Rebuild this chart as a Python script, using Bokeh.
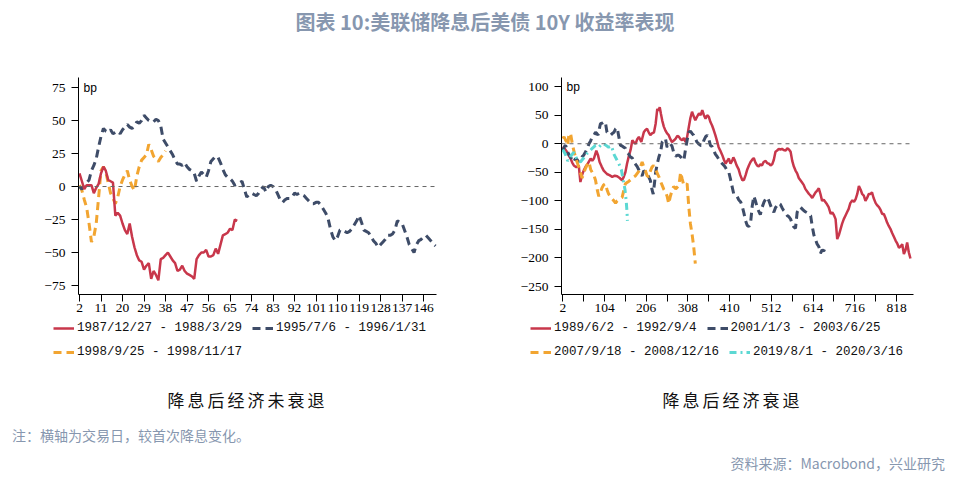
from bokeh.plotting import figure
from bokeh.models import (Span, Label, Legend, LegendItem, FixedTicker, Div)
from bokeh.layouts import column, row
from bokeh.embed import file_html
from bokeh.resources import INLINE

# ---------------- data ----------------
# Left panel: 降息后经济未衰退 (x = trading day, y = bp change vs first cut)
l_red_days = list(range(2, 69))
l_red_vals = [10, 4, -2, 1, 1, 1, -5, -1, 2, 10, 15, 12, 5, 4, 3, -22, -20, -22, -28, -33,
              -36, -28, -38, -46, -52, -56, -57, -63, -60, -58, -70, -64, -67, -71, -55, -54,
              -52, -50, -53, -56, -58, -64, -63, -60, -64, -66, -67, -68, -70, -55, -52, -50,
              -50, -48, -53, -53, -52, -47, -51, -44, -37, -36, -35, -32, -33, -25, -26]

l_navy_days = list(range(2, 152))
l_navy_vals = [0, -2, 1, 3, 5, 12, 16, 21, 30, 38, 44, 42, 41, 43, 40, 41, 42, 40, 43, 45,
               47, 45, 44, 46, 49, 48, 50, 54, 52, 50, 49, 49, 51, 50, 46, 36, 33, 30, 27, 24,
               20, 17, 17, 16, 18, 15, 13, 12, 10, 4, 8, 11, 9, 7, 12, 19, 21, 23, 22, 18,
               13, 9, 7, 6, 4, 1, 2, 3, 4, -2, -8, -6, -5, -6, -7, -5, -2, 0, -4, 0,
               1, 0, -2, -6, -10, -12, -10, -9, -9, -8, -5, -6, -5, -6, -7, -9, -11, -13, -13, -12,
               -12, -14, -17, -20, -24, -32, -38, -41, -38, -33, -33, -34, -35, -34, -32, -29, -26, -22, -27, -33,
               -34, -35, -38, -41, -43, -46, -44, -42, -40, -37, -37, -36, -33, -26, -27, -28, -33, -38, -44, -47,
               -50, -44, -41, -40, -38, -37, -39, -41, -43, -45]

l_orange_days = list(range(2, 39))
l_orange_vals = [1, -3, -10, -16, -28, -42, -38, -28, -8, 12, 15, 11, 3, -5, -9, -13, -8, 0, 5, 9,
                 12, 5, 0, -3, 8, 15, 20, 22, 24, 32, 28, 23, 21, 19, 22, 24, 27]

l_labels = ["1987/12/27 - 1988/3/29", "1995/7/6 - 1996/1/31", "1998/9/25 - 1998/11/17"]
l_xticks = [2, 11, 20, 29, 38, 47, 56, 65, 74, 83, 92, 101, 110, 119, 128, 137, 146]
l_yticks = [-75, -50, -25, 0, 25, 50, 75]

# Right panel: 降息后经济衰退
r_red_days = [2, 4, 8, 12, 16, 21, 25, 29, 35, 41, 45, 49, 53, 58, 63, 70, 74, 78, 84, 88,
              92, 97, 102, 110, 116, 123, 129, 135, 141, 147, 151, 155, 159, 163, 168, 172, 176, 180, 184, 188,
              194, 200, 204, 208, 212, 216, 220, 225, 229, 233, 236, 239, 242, 245, 249, 253, 257, 261, 265, 269,
              274, 278, 282, 286, 290, 294, 298, 302, 306, 310, 314, 318, 322, 326, 330, 335, 339, 343, 347, 351,
              355, 359, 363, 367, 371, 375, 379, 383, 387, 392, 396, 400, 404, 408, 412, 416, 419, 422, 427, 432,
              436, 441, 445, 449, 453, 457, 461, 465, 469, 473, 477, 481, 485, 489, 493, 498, 502, 506, 510, 514,
              518, 522, 526, 530, 534, 538, 542, 547, 551, 555, 559, 563, 567, 571, 575, 579, 583, 587, 591, 595,
              600, 604, 608, 612, 616, 620, 624, 628, 632, 636, 640, 644, 648, 652, 657, 661, 665, 669, 673, 677,
              681, 685, 689, 693, 697, 701, 705, 710, 714, 718, 722, 726, 730, 734, 738, 742, 746, 750, 754, 758,
              762, 767, 771, 775, 779, 783, 787, 791, 795, 799, 803, 807, 811, 816, 820, 824, 828, 832, 836, 840,
              844, 848, 852]
r_red_vals = [-5, -6, -10, -14, -20, -26, -33, -38, -41, -38, -67, -55, -47, -40, -35, -26, -30, -26, -12, -20,
              -32, -40, -47, -53, -55, -58, -56, -57, -60, -64, -58, -50, -35, -23, -10, 6, 2, 0, 8, 12,
              3, 20, 24, 26, 20, 15, 18, 20, 35, 61, 58, 64, 52, 41, 30, 23, 18, 15, 8, 3,
              6, 9, 14, 12, 8, 6, 10, 3, 12, 29, 45, 56, 48, 41, 47, 53, 50, 59, 50, 44,
              50, 47, 38, 32, 24, 15, 5, -6, -12, -20, -28, -35, -30, -26, -35, -30, -24, -28, -38, -45,
              -55, -64, -63, -55, -45, -38, -32, -28, -25, -33, -38, -40, -36, -38, -32, -30, -34, -35, -38, -36,
              -28, -14, -12, -9, -10, -9, -11, -12, -8, -10, -14, -30, -40, -47, -52, -60, -64, -68, -72, -79,
              -84, -88, -91, -95, -90, -85, -82, -78, -88, -100, -98, -102, -106, -111, -123, -120, -125, -132, -167, -160,
              -150, -140, -132, -126, -120, -114, -104, -99, -102, -97, -88, -74, -80, -88, -91, -100, -95, -88, -88, -85,
              -95, -104, -108, -111, -116, -123, -123, -130, -138, -144, -149, -156, -162, -170, -175, -182, -180, -176, -193, -186,
              -173, -190, -201]

r_navy_days = [2, 6, 9, 12, 14, 18, 21, 24, 27, 30, 33, 37, 41, 45, 49, 53, 57, 62, 66, 70,
               74, 78, 82, 85, 88, 91, 94, 98, 102, 106, 110, 114, 119, 123, 127, 131, 135, 139, 143, 147,
               151, 155, 159, 163, 167, 172, 176, 180, 184, 188, 192, 196, 200, 204, 208, 212, 216, 220, 223, 226,
               229, 233, 237, 241, 245, 249, 253, 257, 261, 265, 269, 273, 278, 282, 286, 290, 294, 298, 302, 306,
               310, 314, 318, 322, 326, 330, 334, 339, 343, 347, 351, 355, 359, 363, 367, 371, 375, 380, 384, 388,
               392, 396, 400, 404, 408, 412, 416, 420, 424, 428, 432, 437, 441, 445, 449, 453, 457, 461, 465, 469,
               473, 477, 481, 485, 489, 494, 498, 502, 506, 510, 514, 518, 522, 526, 530, 534, 538, 542, 546, 551,
               555, 559, 563, 567, 571, 575, 579, 583, 587, 591, 595, 600, 604, 608, 612, 616, 620, 624, 628, 632,
               636, 640, 644, 648]
r_navy_vals = [-12, -5, -3, -10, -15, -20, -23, -28, -32, -30, -26, -28, -32, -28, -23, -20, -15, -8, 0, 5,
               12, 15, 20, 18, 15, 25, 35, 36, 38, 38, 20, 18, 15, 18, 20, 26, 28, 12, -3, -4,
               -6, -8, -15, -18, -23, -25, -32, -36, -40, -46, -53, -56, -47, -50, -53, -58, -64, -80, -88, -70,
               -50, -35, -23, -15, 3, 6, 9, -6, -2, 0, -4, -15, -22, -20, -20, -23, -26, -29, -10, 6,
               20, 22, 18, 15, 9, 3, 0, -3, -3, 6, 12, 15, 8, -3, -5, -12, -18, -23, -28, -32,
               -35, -38, -42, -47, -50, -62, -75, -88, -90, -92, -98, -102, -110, -122, -135, -143, -145, -140, -110, -92,
               -100, -111, -118, -124, -112, -102, -97, -94, -100, -108, -115, -120, -112, -108, -104, -106, -112, -117, -120, -126,
               -128, -132, -140, -146, -148, -120, -115, -111, -114, -117, -119, -121, -124, -126, -145, -160, -168, -176, -180, -192,
               -186, -188, -182, -178]

r_orange_days = [2, 5, 9, 12, 14, 17, 21, 24, 27, 30, 33, 37, 41, 45, 49, 53, 57, 62, 66, 70,
                 74, 78, 82, 86, 90, 94, 98, 102, 106, 110, 114, 118, 123, 127, 131, 135, 139, 143, 147, 151,
                 155, 159, 163, 168, 172, 176, 180, 184, 188, 192, 196, 200, 204, 208, 212, 216, 220, 224, 229, 233,
                 237, 241, 245, 249, 253, 257, 261, 265, 269, 273, 278, 282, 286, 290, 294, 298, 302, 306, 310, 314,
                 318, 322, 326]
r_orange_vals = [9, 12, 6, 2, -3, 17, 18, 5, -6, -15, -23, -32, -41, -50, -60, -52, -44, -36, -32, -45,
                 -50, -55, -64, -80, -92, -85, -77, -72, -70, -80, -88, -92, -97, -100, -104, -100, -98, -96, -94, -82,
                 -70, -68, -66, -63, -61, -58, -56, -52, -48, -40, -32, -40, -47, -56, -58, -48, -41, -38, -44, -52,
                 -58, -66, -73, -80, -84, -92, -105, -92, -82, -75, -79, -76, -73, -50, -62, -73, -72, -70, -110, -140,
                 -158, -180, -210]

r_cyan_days = [2, 8, 14, 21, 29, 37, 45, 53, 60, 66, 74, 82, 90, 98, 106, 114, 121, 128, 134, 139,
               145, 150, 154, 157, 159, 160]
r_cyan_vals = [-10, -18, -30, -22, -15, -28, -32, -25, -18, -14, -8, -3, -6, 0, -2, -6, -4, -20, -28, -35,
               -45, -65, -80, -100, -120, -135]

r_labels = ["1989/6/2 - 1992/9/4", "2001/1/3 - 2003/6/25", "2007/9/18 - 2008/12/16", "2019/8/1 - 2020/3/16"]
r_xticks = [2, 104, 206, 308, 410, 512, 614, 716, 818]
r_xminor = [53, 155, 257, 359, 461, 563, 665, 767]
r_yticks = [-250, -200, -150, -100, -50, 0, 50, 100]

title_text = "图表 10:美联储降息后美债 10Y 收益率表现"
sub_left = "降息后经济未衰退"
sub_right = "降息后经济衰退"
note_text = "注：横轴为交易日，较首次降息变化。"
source_text = "资料来源：Macrobond，兴业研究"

# ---------------- style ----------------
RED = "#C8374B"
NAVY = "#3E4C68"
ORANGE = "#F2A531"
CYAN = "#5CD8D3"
GREYBLUE = "#8797AF"
TICK_FONT = "Liberation Serif"
LEG_FONT = "Liberation Mono"

STYLES = {
    "red": dict(line_color=RED, line_width=2.5),
    "navy": dict(line_color=NAVY, line_width=3, line_dash="8 5"),
    "orange": dict(line_color=ORANGE, line_width=3, line_dash="8 5"),
    "cyan": dict(line_color=CYAN, line_width=3, line_dash="7 4 2 4"),
}


def style(p, xticks, yticks, xminor=None):
    p.outline_line_color = None
    p.xgrid.visible = False
    p.ygrid.visible = False
    p.background_fill_color = "white"
    p.border_fill_color = "white"
    for ax in (p.xaxis[0], p.yaxis[0]):
        ax.axis_line_color = "black"
        ax.axis_line_width = 1
        ax.major_tick_line_color = "black"
        ax.major_tick_out = 7
        ax.major_tick_in = 0
        ax.minor_tick_line_color = None
        ax.major_label_text_font = TICK_FONT
        ax.major_label_text_font_size = "13.5px"
        ax.major_label_text_color = "black"
    p.xaxis[0].ticker = FixedTicker(ticks=xticks, minor_ticks=xminor or [])
    if xminor:
        p.xaxis[0].minor_tick_line_color = "black"
        p.xaxis[0].minor_tick_out = 7
        p.xaxis[0].minor_tick_in = 0
    p.yaxis[0].ticker = FixedTicker(ticks=yticks)
    p.xaxis[0].major_label_standoff = 2
    p.yaxis[0].major_label_standoff = 6
    p.add_layout(Span(location=0, dimension="width", line_color="#666666",
                      line_width=1, line_dash="4 4"))


PLOT_H = 273
common = dict(height=PLOT_H, output_backend="svg", toolbar_location=None,
              min_border_top=32, min_border_bottom=24)

# ---------------- left ----------------
p1 = figure(width=485, x_range=(1.58, 151.4), y_range=(-81.8, 82.6),
            min_border_left=78, min_border_right=49, **common)
style(p1, l_xticks, l_yticks)
p1.line(l_orange_days, l_orange_vals, **STYLES["orange"])
p1.line(l_navy_days, l_navy_vals, **STYLES["navy"])
p1.line(l_red_days, l_red_vals, **STYLES["red"])
p1.add_layout(Label(x=3.7, y=75, text="bp", text_font="Liberation Sans", text_font_size="12px",
                    text_baseline="middle", text_color="black"))

# ---------------- right ----------------
p2 = figure(width=485, x_range=(-1.2, 859.5), y_range=(-264, 116),
            min_border_left=76, min_border_right=57, **common)
style(p2, r_xticks, r_yticks, r_xminor)
p2.line(r_red_days, r_red_vals, **STYLES["red"])
p2.line(r_navy_days, r_navy_vals, **STYLES["navy"])
p2.line(r_orange_days, r_orange_vals, **STYLES["orange"])
p2.line(r_cyan_days, r_cyan_vals, **STYLES["cyan"])
p2.add_layout(Label(x=11, y=99, text="bp", text_font="Liberation Sans", text_font_size="12px",
                    text_baseline="middle", text_color="black"))

# ---------------- legend strip ----------------
# The strip's own ranges keep its copies of the series out of view; only the legend shows.
LEG_H = 52
pl = figure(width=970, height=LEG_H, x_range=(-1000, -999), y_range=(-1000, -999), output_backend="svg",
            toolbar_location=None, x_axis_location=None, y_axis_location=None, min_border=0)
pl.outline_line_color = None
pl.xgrid.visible = False
pl.ygrid.visible = False
pl.border_fill_color = "white"
pl.background_fill_color = "white"

rend = {
    "red": pl.line(r_red_days, r_red_vals, **STYLES["red"]),
    "navy": pl.line(r_navy_days, r_navy_vals, **STYLES["navy"]),
    "orange": pl.line(r_orange_days, r_orange_vals, **STYLES["orange"]),
    "cyan": pl.line(r_cyan_days, r_cyan_vals, **STYLES["cyan"]),
}


def legend_row(pairs, loc):
    return Legend(items=[LegendItem(label=lab, renderers=[rend[key]]) for key, lab in pairs],
                  location=loc, orientation="horizontal",
                  label_text_font=LEG_FONT, label_text_font_size="12.5px",
                  label_text_color="#111111", glyph_width=21, glyph_height=16,
                  label_height=16, label_standoff=3, spacing=10, padding=0, margin=0,
                  border_line_color=None, background_fill_alpha=0)


pl.add_layout(legend_row([("red", l_labels[0]), ("navy", l_labels[1])], (53, 34)))
pl.add_layout(legend_row([("orange", l_labels[2])], (53, 10)))
pl.add_layout(legend_row([("red", r_labels[0]), ("navy", r_labels[1])], (530, 34)))
pl.add_layout(legend_row([("orange", r_labels[2]), ("cyan", r_labels[3])], (530, 10)))

# ---------------- text blocks ----------------
CJK = "'Noto Sans CJK SC', sans-serif"
title_div = Div(text=f'<div style="width:970px;height:45px;line-height:44px;text-align:center;'
                     f'font-family:{CJK};font-weight:bold;font-size:20px;color:{GREYBLUE};">{title_text}</div>',
                width=970, height=45, margin=0)
subl = Div(text=f'<div style="width:485px;height:55px;line-height:60px;text-align:center;padding-left:10px;'
                f'box-sizing:border-box;font-family:{CJK};font-size:17px;letter-spacing:3px;color:#111;">{sub_left}</div>',
           width=485, height=55, margin=0)
subr = Div(text=f'<div style="width:485px;height:55px;line-height:60px;text-align:center;padding-left:10px;'
                f'box-sizing:border-box;font-family:{CJK};font-size:17px;letter-spacing:3px;color:#111;">{sub_right}</div>',
           width=485, height=55, margin=0)
note_div = Div(text=f'<div style="width:970px;height:20px;line-height:20px;padding-left:12px;box-sizing:border-box;'
                    f'font-family:{CJK};font-size:14px;color:{GREYBLUE};">{note_text}</div>',
               width=970, height=20, margin=0)
src_div = Div(text=f'<div style="width:970px;height:36px;line-height:36px;padding-right:25px;box-sizing:border-box;'
                   f'text-align:right;font-family:{CJK};font-size:14px;color:{GREYBLUE};">{source_text}</div>',
              width=970, height=36, margin=0)

layout = column(title_div, row(p1, p2, spacing=0), pl, row(subl, subr, spacing=0), note_div, src_div,
                spacing=0)

open("out.html", "w").write(file_html(layout, INLINE))
